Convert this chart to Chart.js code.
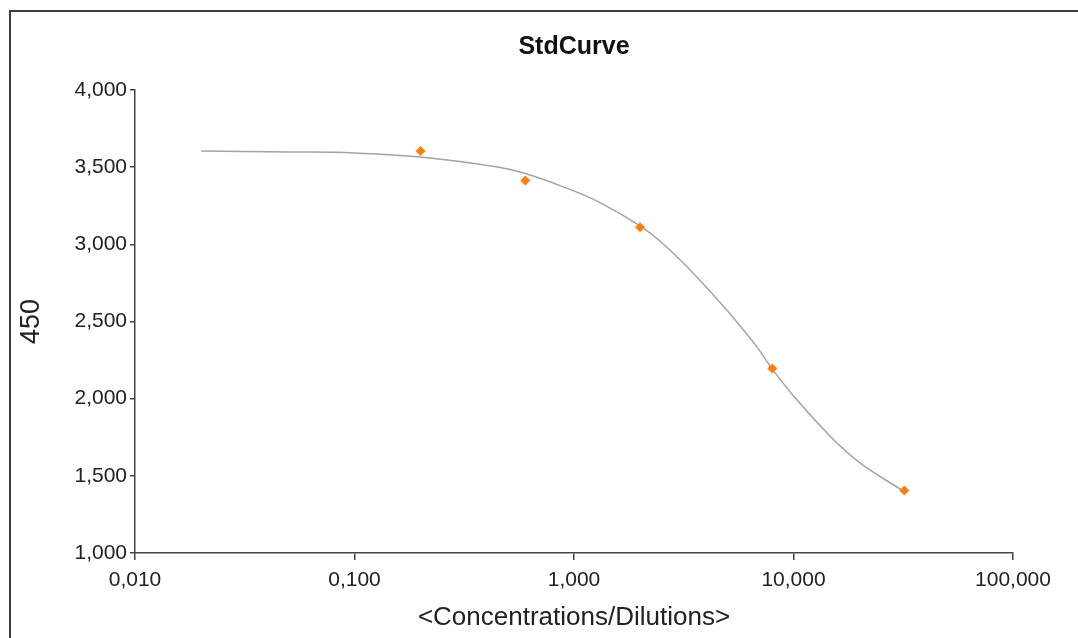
<!DOCTYPE html>
<html>
<head>
<meta charset="utf-8">
<script src="https://cdn.jsdelivr.net/npm/chart.js@4/dist/chart.umd.min.js"></script>
<style>
  html, body { margin: 0; padding: 0; background: #fff; }
  #wrap { position: relative; width: 1078px; height: 638px; overflow: hidden; }
  #frame {
    position: absolute; left: 9px; top: 10px; width: 1080px; height: 640px;
    border-top: 2px solid #3c3c3c; border-left: 2px solid #3c3c3c;
    pointer-events: none;
  }
  canvas { position: absolute; left: 0; top: 0; }
</style>
</head>
<body>
<div id="wrap">
  <canvas id="c" width="1078" height="638"></canvas>
  <div id="frame"></div>
</div>
<script>
// Standards: concentration / dilution vs. measured signal at 450 nm
const concentrations = [0.2, 0.6, 2, 8, 32];
const signal450 = [3605, 3413, 3110, 2195, 1405];

// Fitted standard curve, sampled along the concentration axis
const fitX = [0.02, 0.05, 0.1, 0.2, 0.45, 0.6, 0.9, 1.3, 2, 2.55, 3.38, 4.31, 5.51, 6.8, 8, 10, 15, 20, 32];
const fitY = [3605, 3599, 3592, 3566, 3501, 3459, 3371, 3274, 3119, 3002, 2834, 2672, 2499, 2337, 2192, 2018, 1743, 1586, 1397];

// Axis ticks
const xTickValues = [0.01, 0.1, 1, 10, 100];
const xTickLabels = ['0,010', '0,100', '1,000', '10,000', '100,000'];
const yTickValues = [1000, 1500, 2000, 2500, 3000, 3500, 4000];
const yTickLabels = ['1,000', '1,500', '2,000', '2,500', '3,000', '3,500', '4,000'];

const axisColor = '#444';
const font = 'Liberation Sans, Arial, Helvetica, sans-serif';

new Chart(document.getElementById('c'), {
  type: 'scatter',
  data: {
    datasets: [
      {
        label: 'Fit',
        type: 'line',
        data: fitX.map((x, i) => ({ x, y: fitY[i] })),
        borderColor: '#a3a3a3',
        borderWidth: 1.5,
        pointRadius: 0,
        tension: 0.4,
        fill: false,
        order: 2
      },
      {
        label: 'Standards',
        data: concentrations.map((x, i) => ({ x, y: signal450[i] })),
        pointStyle: 'rectRot',
        pointRadius: 5,
        pointBackgroundColor: '#ff7f0e',
        pointBorderColor: '#ff7f0e',
        pointBorderWidth: 0,
        order: 1
      }
    ]
  },
  options: {
    responsive: false,
    animation: false,
    layout: { padding: { left: 0, right: 65, top: 0, bottom: 0 } },
    plugins: {
      legend: { display: false },
      tooltip: { enabled: false },
      title: {
        display: true,
        text: 'StdCurve',
        fullSize: false,
        color: '#111',
        font: { family: font, size: 25, weight: 'bold', lineHeight: 1.2 },
        padding: { top: 32, bottom: 28 }
      }
    },
    scales: {
      x: {
        type: 'logarithmic',
        min: 0.01,
        max: 100,
        afterBuildTicks: s => { s.ticks = xTickValues.map(v => ({ value: v })); },
        afterFit: s => { s.height = 85; },
        ticks: {
          autoSkip: false,
          maxRotation: 0,
          color: '#222',
          font: { family: font, size: 21 },
          padding: 8,
          callback: (v) => { const i = xTickValues.indexOf(v); return i >= 0 ? xTickLabels[i] : ''; }
        },
        grid: { drawOnChartArea: false, drawTicks: true, tickLength: 7, color: axisColor, lineWidth: 1.5 },
        border: { display: true, color: axisColor, width: 1.5 },
        title: {
          display: true,
          text: '<Concentrations/Dilutions>',
          color: '#222',
          font: { family: font, size: 26, lineHeight: 1.2 },
          padding: { top: 0, bottom: 5 }
        }
      },
      y: {
        type: 'linear',
        min: 1000,
        max: 4000,
        afterBuildTicks: s => { s.ticks = yTickValues.map(v => ({ value: v })); },
        afterFit: s => { s.width = 135; },
        ticks: {
          color: '#222',
          font: { family: font, size: 21 },
          padding: 3,
          callback: (v) => { const i = yTickValues.indexOf(v); return i >= 0 ? yTickLabels[i] : ''; }
        },
        grid: { drawOnChartArea: false, drawTicks: true, tickLength: 5, color: axisColor, lineWidth: 1.5 },
        border: { display: true, color: axisColor, width: 1.5 },
        title: {
          display: true,
          text: '450',
          color: '#222',
          font: { family: font, size: 27, lineHeight: 1.2 },
          padding: { top: 15, bottom: 0 }
        }
      }
    }
  },
  plugins: [{
    id: 'whiteBg',
    beforeDraw: (chart) => {
      const ctx = chart.ctx;
      ctx.save();
      ctx.fillStyle = '#fff';
      ctx.fillRect(0, 0, chart.width, chart.height);
      ctx.restore();
    }
  }]
});
</script>
</body>
</html>
